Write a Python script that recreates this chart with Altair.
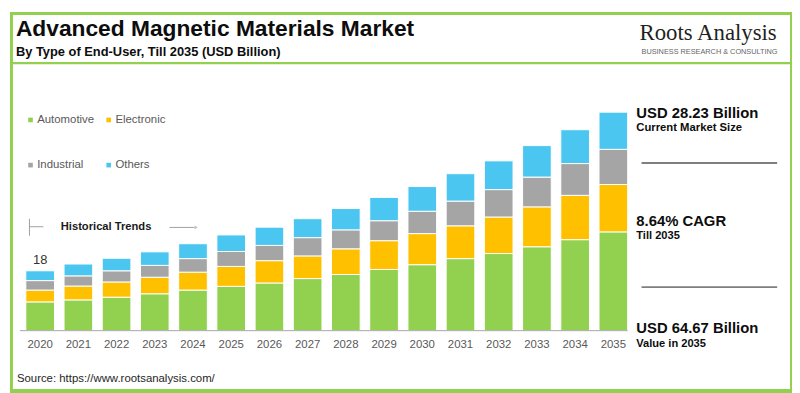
import altair as alt
import pandas as pd

# ---------------- data ----------------
years = [str(y) for y in range(2020, 2036)]
categories = ["Automotive", "Electronic", "Industrial", "Others"]
colors = ["#92D050", "#FFC000", "#A5A5A5", "#4BC6F1"]

automotive = [8.5, 9.1, 9.9, 10.9, 12.0, 13.1, 14.1, 15.4, 16.6, 18.1, 19.5, 21.3, 22.8, 24.8, 26.9, 29.2]
electronic = [3.5, 4.1, 4.5, 4.9, 5.3, 5.9, 6.6, 6.7, 7.6, 8.5, 9.2, 9.7, 10.8, 11.8, 13.1, 14.0]
industrial = [2.8, 3.0, 3.3, 3.5, 4.0, 4.4, 4.5, 5.4, 5.6, 5.9, 6.6, 7.3, 8.1, 8.8, 9.4, 10.4]
others = [2.9, 3.5, 3.7, 4.0, 4.4, 4.9, 5.4, 5.6, 6.3, 6.9, 7.3, 8.1, 8.5, 9.3, 10.0, 11.0]

title_text = "Advanced Magnetic Materials Market"
subtitle_text = "By Type of End-User, Till 2035 (USD Billion)"
logo_text = "Roots Analysis"
logo_tag = "BUSINESS RESEARCH & CONSULTING"
hist_text = "Historical Trends"
kpi1 = ("USD 28.23 Billion", "Current Market Size")
kpi2 = ("8.64% CAGR", "Till 2035")
kpi3 = ("USD 64.67 Billion", "Value in 2035")
source_text = "Source: https://www.rootsanalysis.com/"
labelled_year = "2020"

series = [automotive, electronic, industrial, others]
rows = []
for ci, (cat, vals) in enumerate(zip(categories, series)):
    for y, v in zip(years, vals):
        rows.append({"year": y, "segment": cat, "value": v, "idx": ci})
df = pd.DataFrame(rows)
totals = pd.DataFrame({"year": years,
                       "total": [sum(s[i] for s in series) for i in range(len(years))]})
one = pd.DataFrame({"k": [0]})

FONT = "Liberation Sans"
GREEN = "#92D050"

x_scale = alt.Scale(range=[16, 624], paddingInner=0.25, paddingOuter=0)
y_scale = alt.Scale(domain=[0, 94.22], range=[322, 0], nice=False)


def hline(x1, x2, y, color, w):
    return alt.Chart(one).mark_rule(color=color, strokeWidth=w).encode(
        x=alt.value(x1), x2=alt.value(x2), y=alt.value(y))


def vline(x, y1, y2, color, w):
    return alt.Chart(one).mark_rule(color=color, strokeWidth=w).encode(
        x=alt.value(x), y=alt.value(y1), y2=alt.value(y2))


def label(txt, x, y, size, bold=False, color="#000000", font=FONT):
    return alt.Chart(one).mark_text(
        align="left", baseline="alphabetic", fontSize=size,
        fontWeight="bold" if bold else "normal", color=color, font=font
    ).encode(x=alt.value(x), y=alt.value(y), text=alt.value(txt))


bars = alt.Chart(df).mark_bar(stroke="white", strokeWidth=1).encode(
    x=alt.X("year:N", sort=years, scale=x_scale, axis=None),
    y=alt.Y("value:Q", stack="zero", scale=y_scale, axis=None),
    color=alt.Color("segment:N", scale=alt.Scale(domain=categories, range=colors),
                    legend=alt.Legend(orient="none", legendX=15, legendY=103,
                                      direction="horizontal",
                                      columns=2, title=None, symbolType="square",
                                      symbolSize=22, symbolStrokeWidth=0,
                                      labelFontSize=11.5, labelFont=FONT,
                                      labelColor="#595959", labelOffset=1,
                                      rowPadding=33, columnPadding=8, padding=0)),
    order=alt.Order("idx:Q"),
)

year_labels = alt.Chart(pd.DataFrame({"year": years})).mark_text(
    baseline="alphabetic", fontSize=11.5, color="#595959", font=FONT
).encode(x=alt.X("year:N", sort=years), y=alt.value(339.7), text="year:N")

total_label = alt.Chart(totals).transform_filter(
    alt.datum.year == labelled_year
).mark_text(baseline="alphabetic", dy=-6.6, fontSize=13, color="#333333", font=FONT).encode(
    x=alt.X("year:N", sort=years),
    y=alt.Y("total:Q"),
    text=alt.Text("total:Q", format=".0f"),
)

arrow_head = alt.Chart(one).mark_point(shape="triangle-right", filled=True,
                                       color="#A0A0A0", size=14).encode(
    x=alt.value(188), y=alt.value(217.7))

layers = [
    # frame
    hline(0, 792, 1.5, GREEN, 3),
    vline(1.5, 0, 385, GREEN, 3),
    vline(790, 0, 385, GREEN, 4),
    hline(0, 792, 383, GREEN, 4),
    hline(0, 790, 51.8, GREEN, 2.2),
    # header
    label(title_text, 6, 24.3, 23, True, "#0d0d0d"),
    label(subtitle_text, 6, 44.3, 13, True, "#0d0d0d"),
    label(logo_text, 636, 28, 23, False, "#231f20", "Liberation Serif"),
    label(logo_tag, 638, 42, 7.4, False, "#666666"),
    # chart
    bars,
    hline(10, 624, 322, "#A6A6A6", 1),
    year_labels,
    total_label,
    # historical trends
    vline(19.7, 209, 226, "#A0A0A0", 1),
    hline(19.7, 33.7, 217, "#A0A0A0", 1),
    label(hist_text, 51.3, 220.7, 11.3, True, "#1a1a1a"),
    hline(161, 186, 217.7, "#A0A0A0", 1),
    arrow_head,
    # right annotations
    label(kpi1[0], 632.7, 107, 15, True, "#0d0d0d"),
    label(kpi1[1], 632.7, 120.3, 11.4, True, "#0d0d0d"),
    hline(638, 775, 152.7, "#7F7F7F", 2),
    label(kpi2[0], 632.7, 216.3, 15, True, "#0d0d0d"),
    label(kpi2[1], 632.7, 229.7, 11.2, True, "#0d0d0d"),
    hline(638, 775, 278, "#7F7F7F", 2),
    label(kpi3[0], 632.7, 324.3, 15, True, "#0d0d0d"),
    label(kpi3[1], 632.7, 338.7, 11.2, True, "#0d0d0d"),
    # source
    label(source_text, 7, 374.3, 11.5, False, "#262626"),
]

chart = alt.layer(*layers).properties(
    width=792, height=385,
    autosize=alt.AutoSizeParams(type="fit", contains="padding"),
    padding=0,
    background="white",
).configure_view(stroke=None)

chart.save("out.html", embed_options={"renderer": "svg", "actions": False})
